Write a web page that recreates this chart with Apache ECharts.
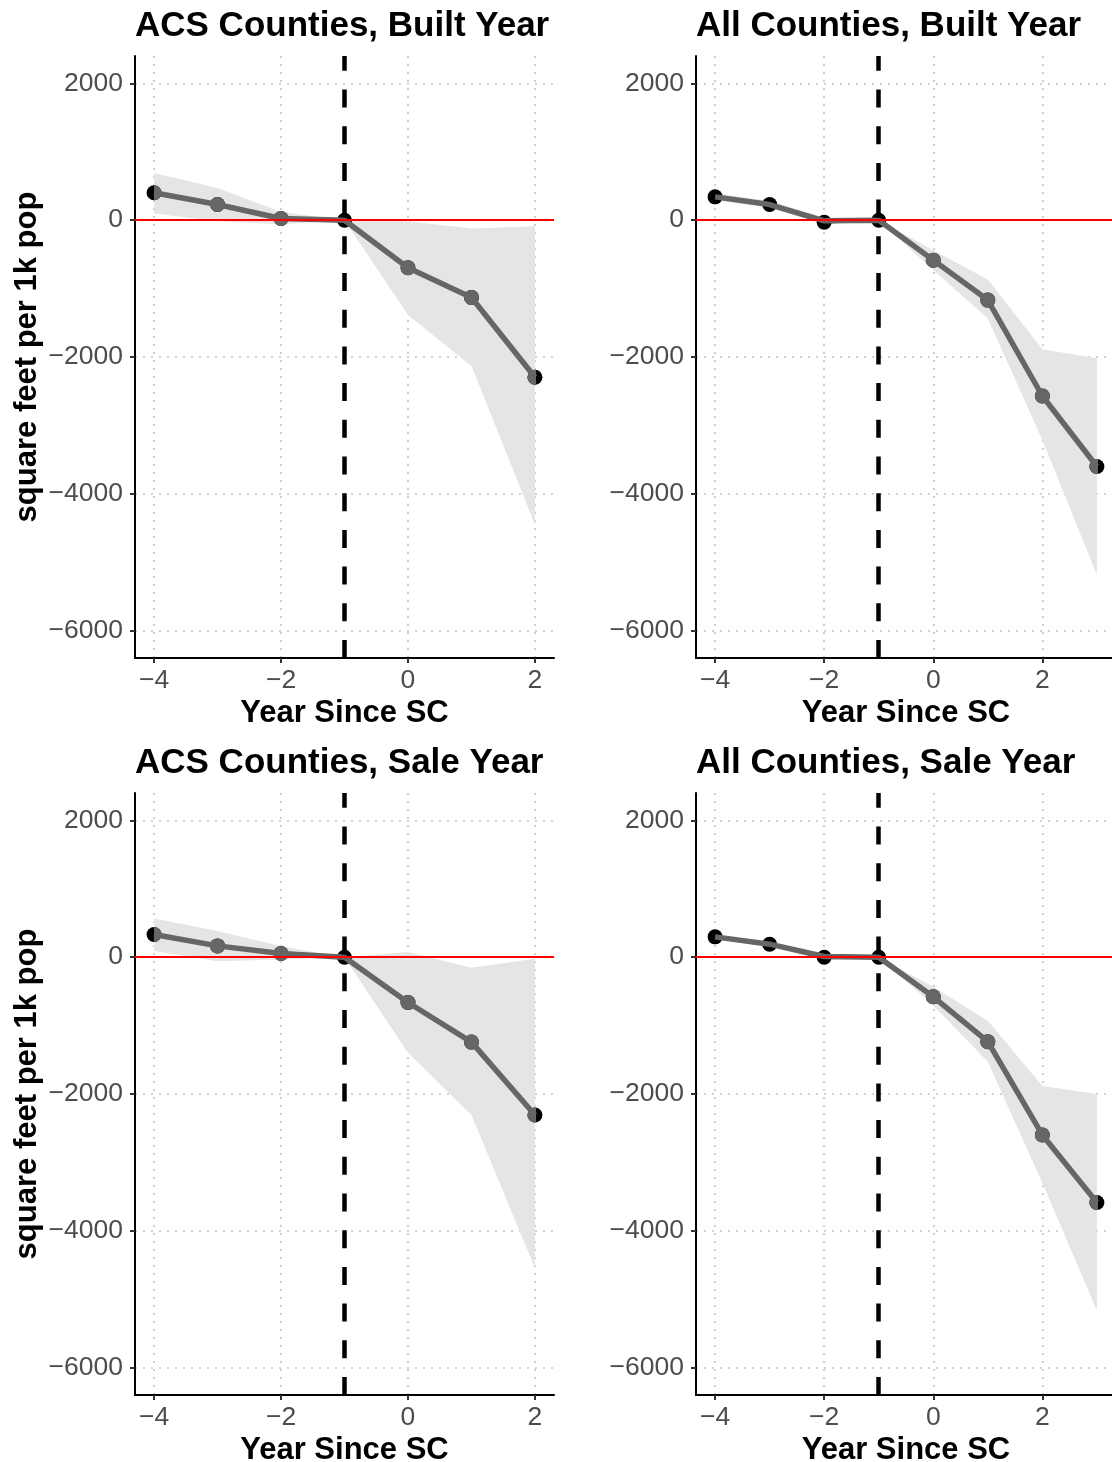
<!DOCTYPE html>
<html>
<head>
<meta charset="utf-8">
<script src="https://cdn.jsdelivr.net/npm/echarts@6/dist/echarts.min.js"></script>
<style>html,body{margin:0;padding:0;background:#fff}#c{width:1112px;height:1462px}</style>
</head>
<body>
<div id="c"></div>
<script>
// ---- data ----
const X_ACS = [-4, -3, -2, -1, 0, 1, 2];
const X_ALL = [-4, -3, -2, -1, 0, 1, 2, 3];

const ACS_BUILT_EST   = [400, 229, 25, 0, -696, -1129, -2297];
const ACS_BUILT_BLACK = [400, 229, 25, 0, -696, -1129, -2297];
const ACS_BUILT_LO    = [98, -15, -58, 0, -1387, -2132, -4453];
const ACS_BUILT_HI    = [690, 472, 121, 0, -15, -122, -88];

const ALL_BUILT_EST   = [341, 229, -10, 0, -584, -1168, -2570, -3601];
const ALL_BUILT_BLACK = [341, 229, -30, 0, -584, -1168, -2570, -3601];
const ALL_BUILT_LO    = [290, 180, -60, 0, -730, -1436, -3212, -5183];
const ALL_BUILT_HI    = [395, 280, 40, 0, -438, -866, -1888, -2019];

const ACS_SALE_EST    = [331, 165, 54, 0, -662, -1241, -2307];
const ACS_SALE_BLACK  = [331, 165, 54, 0, -662, -1241, -2307];
const ACS_SALE_LO     = [92, -58, -34, 0, -1397, -2307, -4545];
const ACS_SALE_HI     = [565, 384, 161, 0, 77, -156, -24];

const ALL_SALE_EST    = [297, 190, 10, 0, -579, -1236, -2599, -3587];
const ALL_SALE_BLACK  = [297, 190, 0, 0, -579, -1236, -2599, -3587];
const ALL_SALE_LO     = [257, 160, -40, 0, -701, -1528, -3300, -5164];
const ALL_SALE_HI     = [337, 220, 50, 0, -433, -930, -1883, -2000];

// x positions where the grey estimate dots are visible
const GREY_DOTS_ACS = [-4, -3, -2, 0, 1, 2];
const GREY_DOTS_ALL = [0, 1, 2, 3];

const X_TICKS = [-4, -2, 0, 2];
const Y_TICKS = [-6000, -4000, -2000, 0, 2000];
const Y_MIN = -6400, Y_MAX = 2400;
const EVENT_X = -1;

const TITLES = ['ACS Counties, Built Year', 'All Counties, Built Year', 'ACS Counties, Sale Year', 'All Counties, Sale Year'];
const X_NAME = 'Year Since SC';
const Y_NAME = 'square feet per 1k pop';

// ---- panels ----
const FONT = 'Liberation Sans, Arial, Helvetica, sans-serif';
const panels = [
  {title: TITLES[0], xs: X_ACS, est: ACS_BUILT_EST, blk: ACS_BUILT_BLACK, lo: ACS_BUILT_LO, hi: ACS_BUILT_HI, dots: GREY_DOTS_ACS,
   left: 135, top: 56, width: 419, height: 602, xmin: -4.3, xmax: 2.3, yName: true, titleTop: 9},
  {title: TITLES[1], xs: X_ALL, est: ALL_BUILT_EST, blk: ALL_BUILT_BLACK, lo: ALL_BUILT_LO, hi: ALL_BUILT_HI, dots: GREY_DOTS_ALL,
   left: 696, top: 56, width: 420, height: 602, xmin: -4.35, xmax: 3.35, yName: false, titleTop: 9},
  {title: TITLES[2], xs: X_ACS, est: ACS_SALE_EST, blk: ACS_SALE_BLACK, lo: ACS_SALE_LO, hi: ACS_SALE_HI, dots: GREY_DOTS_ACS,
   left: 135, top: 793, width: 419, height: 602, xmin: -4.3, xmax: 2.3, yName: true, titleTop: 746},
  {title: TITLES[3], xs: X_ALL, est: ALL_SALE_EST, blk: ALL_SALE_BLACK, lo: ALL_SALE_LO, hi: ALL_SALE_HI, dots: GREY_DOTS_ALL,
   left: 696, top: 793, width: 420, height: 602, xmin: -4.35, xmax: 3.35, yName: false, titleTop: 746}
];

const minusFmt = v => String(v).replace('-', '\u2212');
const option = {animation: false, backgroundColor: '#fff', title: [], grid: [], xAxis: [], yAxis: [], series: []};

panels.forEach((p, i) => {
  const gMain = i * 2, gClip = i * 2 + 1;
  const first = p.xs[0], last = p.xs[p.xs.length - 1];
  const pxPerUnit = p.width / (p.xmax - p.xmin);
  option.title.push({text: p.title, left: p.left, top: p.titleTop, padding: 0,
    textStyle: {fontFamily: FONT, fontSize: 35, fontWeight: 'bold', color: '#000'}});
  option.grid.push({left: p.left, top: p.top, width: p.width, height: p.height, outerBoundsMode: 'none', containLabel: false});
  option.grid.push({left: p.left + (first - p.xmin) * pxPerUnit, top: p.top, width: (last - first) * pxPerUnit, height: p.height,
    outerBoundsMode: 'none', containLabel: false});

  option.xAxis.push({type: 'value', gridIndex: gMain, min: p.xmin, max: p.xmax,
    axisLine: {show: true, onZero: false, lineStyle: {color: '#000', width: 2}},
    axisTick: {show: true, customValues: X_TICKS, length: 5, lineStyle: {color: '#333', width: 2}},
    axisLabel: {show: true, customValues: X_TICKS, formatter: minusFmt, margin: 9,
      fontFamily: FONT, fontSize: 26.5, color: '#4d4d4d'},
    splitLine: {show: true, lineStyle: {color: '#c4c4c4', width: 1.6, type: [2, 6]}},
    name: X_NAME, nameLocation: 'middle', nameGap: 40, nameMoveOverlap: false,
    nameTextStyle: {fontFamily: FONT, fontSize: 31, fontWeight: 'bold', color: '#000'}});
  option.xAxis.push({type: 'value', gridIndex: gClip, min: first, max: last, show: false});

  option.yAxis.push({type: 'value', gridIndex: gMain, min: Y_MIN, max: Y_MAX,
    axisLine: {show: true, onZero: false, lineStyle: {color: '#000', width: 2}},
    axisTick: {show: true, customValues: Y_TICKS, length: 5, lineStyle: {color: '#333', width: 2}},
    axisLabel: {show: true, customValues: Y_TICKS, formatter: minusFmt, margin: 12,
      fontFamily: FONT, fontSize: 26.5, color: '#4d4d4d'},
    splitLine: {show: true, lineStyle: {color: '#c4c4c4', width: 1.6, type: [2, 6]}},
    name: p.yName ? Y_NAME : '', nameLocation: 'middle', nameGap: 92, nameMoveOverlap: false,
    nameTextStyle: {fontFamily: FONT, fontSize: 31, fontWeight: 'bold', color: '#000'}});
  option.yAxis.push({type: 'value', gridIndex: gClip, min: Y_MIN, max: Y_MAX, show: false});

  // confidence ribbon
  option.series.push({type: 'custom', xAxisIndex: gMain, yAxisIndex: gMain, z: 1, silent: true,
    data: [[first, p.hi[0]]],
    renderItem: function (params, api) {
      const pts = [];
      for (let k = 0; k < p.xs.length; k++) pts.push(api.coord([p.xs[k], p.hi[k]]));
      for (let k = p.xs.length - 1; k >= 0; k--) pts.push(api.coord([p.xs[k], p.lo[k]]));
      return {type: 'polygon', shape: {points: pts}, style: {fill: '#e5e5e5'}};
    }});
  // black line + dots
  option.series.push({type: 'line', xAxisIndex: gMain, yAxisIndex: gMain, z: 2, silent: true,
    data: p.xs.map((x, k) => [x, p.blk[k]]),
    symbol: 'circle', symbolSize: 15, showSymbol: true, showAllSymbol: true,
    itemStyle: {color: '#000'}, lineStyle: {color: '#000', width: 2.5}});
  // grey estimate line (clipped to the data range)
  option.series.push({type: 'line', xAxisIndex: gClip, yAxisIndex: gClip, z: 3, silent: true, clip: true,
    data: p.xs.map((x, k) => [x, p.est[k]]),
    symbol: 'none', lineStyle: {color: '#666666', width: 5.5}});
  // grey dots (clipped)
  option.series.push({type: 'custom', xAxisIndex: gClip, yAxisIndex: gClip, z: 4, silent: true, clip: true,
    data: p.xs.map((x, k) => [x, p.est[k]]).filter(d => p.dots.indexOf(d[0]) >= 0),
    renderItem: function (params, api) {
      const c = api.coord([api.value(0), api.value(1)]);
      return {type: 'circle', shape: {cx: c[0], cy: c[1], r: 7.5}, style: {fill: '#666666'}};
    }});
  // reference lines
  option.series.push({type: 'line', xAxisIndex: gMain, yAxisIndex: gMain, z: 5, silent: true,
    data: p.xs.map((x, k) => [x, p.blk[k]]), symbol: 'none', lineStyle: {opacity: 0},
    markLine: {silent: true, symbol: ['none', 'none'], label: {show: false}, animation: false,
      data: [
        {yAxis: 0, lineStyle: {color: '#ff0000', width: 2, type: 'solid'}},
        {xAxis: EVENT_X, lineStyle: {color: '#000', width: 4.5, type: [18, 18.7]}}
      ]}});
});

const chart = echarts.init(document.getElementById('c'), null, {renderer: 'canvas'});
chart.setOption(option);
</script>
</body>
</html>
